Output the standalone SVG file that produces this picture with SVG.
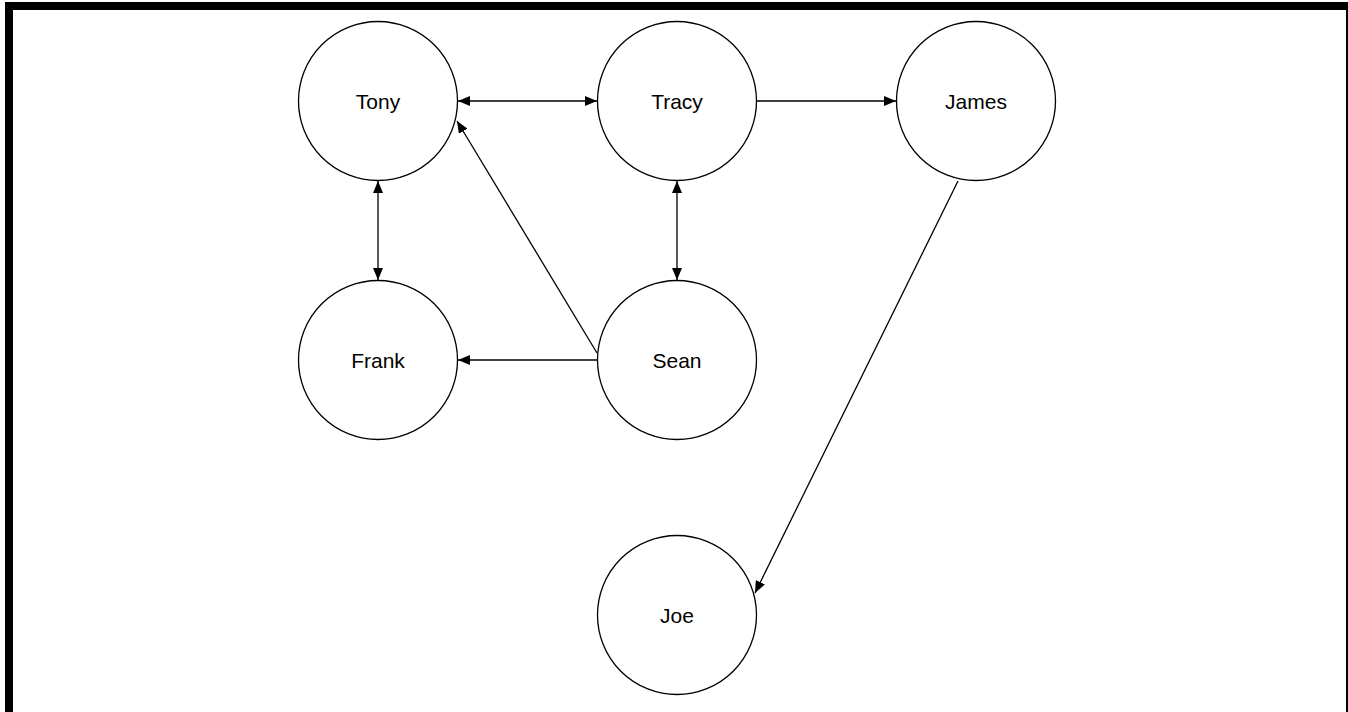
<svg xmlns="http://www.w3.org/2000/svg" width="1348" height="712" viewBox="0 0 1348 712">
<style>
.n{fill:#fff;stroke:#000;stroke-width:1.3}
.t{font-family:"Liberation Sans",Arial,sans-serif;font-size:21px;fill:#000;text-anchor:middle;dominant-baseline:central}
.e{stroke:#000;stroke-width:1.3;fill:none}
</style>
<defs>
<marker id="ah" viewBox="0 0 12 10" refX="12" refY="5" markerWidth="12" markerHeight="10" markerUnits="userSpaceOnUse" orient="auto-start-reverse">
<path d="M0,0 L12,5 L0,10 Z" fill="#000"/>
</marker>
</defs>
<rect x="0" y="0" width="1348" height="712" fill="#fff"/>
<rect x="9" y="6" width="1341" height="720" fill="none" stroke="#000" stroke-width="8"/>
<g id="connectors">
<line class="e" x1="458" y1="101" x2="597" y2="101" marker-start="url(#ah)" marker-end="url(#ah)"/>
<line class="e" x1="757" y1="101" x2="896" y2="101" marker-end="url(#ah)"/>
<line class="e" x1="378" y1="181" x2="378" y2="280" marker-start="url(#ah)" marker-end="url(#ah)"/>
<line class="e" x1="677" y1="181" x2="677" y2="280" marker-start="url(#ah)" marker-end="url(#ah)"/>
<line class="e" x1="597" y1="360" x2="458" y2="360" marker-end="url(#ah)"/>
<line class="e" x1="597" y1="353" x2="457" y2="121" marker-end="url(#ah)"/>
<line class="e" x1="958" y1="181" x2="755" y2="593" marker-end="url(#ah)"/>
</g>
<g id="tony"><circle class="n" cx="378" cy="101" r="79.5"/><text class="t" x="378" y="101">Tony</text></g>
<g id="tracy"><circle class="n" cx="677" cy="101" r="79.5"/><text class="t" x="677" y="101">Tracy</text></g>
<g id="james"><circle class="n" cx="976" cy="101" r="79.5"/><text class="t" x="976" y="101">James</text></g>
<g id="frank"><circle class="n" cx="378" cy="360" r="79.5"/><text class="t" x="378" y="360">Frank</text></g>
<g id="sean"><circle class="n" cx="677" cy="360" r="79.5"/><text class="t" x="677" y="360">Sean</text></g>
<g id="joe"><circle class="n" cx="677" cy="615" r="79.5"/><text class="t" x="677" y="615">Joe</text></g>
</svg>
